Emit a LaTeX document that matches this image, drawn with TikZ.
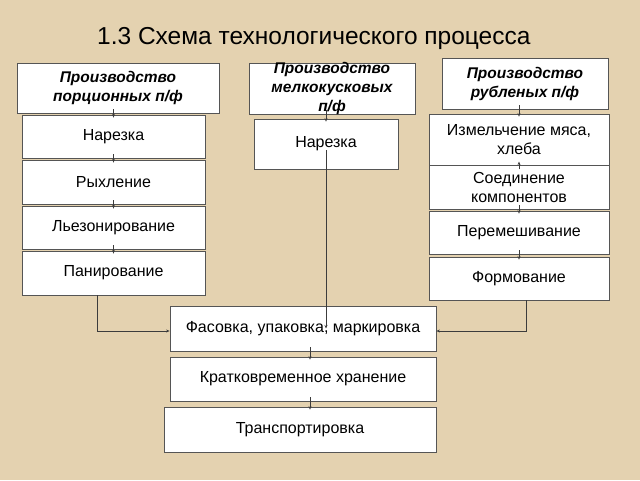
\documentclass[tikz,border=0pt]{standalone}
\usepackage{fontspec}
\setmainfont{Liberation Sans}
\usetikzlibrary{arrows.meta, positioning}
\definecolor{parch}{RGB}{228, 210, 176}
\definecolor{boxline}{RGB}{85, 85, 85}
\definecolor{linkgray}{RGB}{60, 60, 60}

\tikzset{
  stepbox/.style={draw=boxline, fill=white, line width=0.8pt, align=center, inner sep=1pt,
    font=\fontsize{16}{19}\selectfont},
  headbox/.style={stepbox, font=\fontsize{15.5}{19}\selectfont\bfseries\itshape},
  link/.style={draw=linkgray, line width=0.6pt, -{Stealth[length=3.5pt, width=3pt]}},
  tick/.style={link, shorten <=-4pt, shorten >=-3pt}
}

\begin{document}
\begin{tikzpicture}[x=1pt, y=-1pt]
  % background
  \fill[parch] (0,0) rectangle (640,480);

  % Title
  \node[anchor=base west, inner sep=0pt, font=\fontsize{24.5}{28}\selectfont] (title) at (97,44) {1.3 Схема технологического процесса};

  % Left column
  \node[headbox, minimum width=202, minimum height=50] (h1) at (118,88) {Производство\\порционных п/ф};
  \node[stepbox, minimum width=183, minimum height=43] (n1) at (113.5,136.5) {Нарезка};
  \node[stepbox, minimum width=183, minimum height=44] (r1) at (113.5,182) {Рыхление};
  \node[stepbox, minimum width=183, minimum height=43] (l1) at (113.5,227.5) {Льезонирование};
  \node[stepbox, minimum width=183, minimum height=44] (p1) at (113.5,273) {Панирование};

  \draw[tick] (n1.north |- h1.south) -- (n1.north);
  \draw[tick] (n1) -- (r1);
  \draw[tick] (r1) -- (l1);
  \draw[tick] (l1) -- (p1);

  % Middle column
  \node[headbox, minimum width=166, minimum height=51, inner ysep=-3pt] (h2) at (332,88.5) {Производство\\мелкокусковых\\п/ф};
  \node[stepbox, minimum width=144, minimum height=50] (n2) at (326,144) {Нарезка};

  \draw[tick] (h2.south -| n2.north) -- (n2.north);

  % Right column
  \node[headbox, minimum width=166, minimum height=51] (h3) at (525,83.5) {Производство\\рубленых п/ф};
  \node[stepbox, minimum width=180, minimum height=51] (m3) at (519,139.5) {Измельчение мяса,\\хлеба};
  \node[stepbox, minimum width=180, minimum height=44] (s3) at (519,187) {Соединение\\компонентов};
  \node[stepbox, minimum width=180, minimum height=43] (pm3) at (519,232.5) {Перемешивание};
  \node[stepbox, minimum width=180, minimum height=43] (f3) at (519,278.5) {Формование};

  \draw[tick] (m3.north |- h3.south) -- (m3.north);
  \draw[tick] (m3) -- (s3);
  \draw[tick] (s3) -- (pm3);
  \draw[tick] (pm3) -- (f3);

  % Common steps
  \node[stepbox, minimum width=266, minimum height=45] (pack) at (303,328.5) {Фасовка, упаковка, маркировка};
  \node[stepbox, minimum width=266, minimum height=44] (store) at (303,379) {Кратковременное хранение};
  \node[stepbox, minimum width=272, minimum height=45] (trans) at (300,429.5) {Транспортировка};

  \draw[tick] ([xshift=7pt]pack.south) -- ([xshift=7pt]store.north);
  \draw[tick] ([xshift=7pt]store.south) -- ([xshift=7pt]store.south |- trans.north);

  % Joining lines
  \coordinate (lbend) at (97,331);
  \coordinate (rbend) at (526,331);
  \draw[link] (lbend |- p1.south) -- (lbend) -- (lbend -| pack.west);
  \draw[link] (rbend |- f3.south) -- (rbend) -- (rbend -| pack.east);
  \draw[link] ([yshift=-6pt]n2.center) -- (n2.center |- pack.center);
\end{tikzpicture}
\end{document}
